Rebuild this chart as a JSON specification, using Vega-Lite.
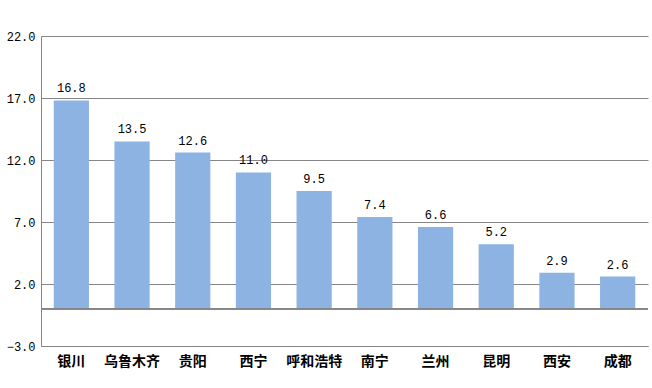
{
  "$schema": "https://vega.github.io/schema/vega-lite/v6.json",
  "width": 607,
  "height": 310,
  "autosize": {"type": "none"},
  "padding": {"left": 41, "top": 36, "right": 4, "bottom": 42},
  "background": "white",
  "config": {"view": {"stroke": null}},
  "data": {"values": [
    {"city": "银川", "value": 16.8},
    {"city": "乌鲁木齐", "value": 13.5},
    {"city": "贵阳", "value": 12.6},
    {"city": "西宁", "value": 11.0},
    {"city": "呼和浩特", "value": 9.5},
    {"city": "南宁", "value": 7.4},
    {"city": "兰州", "value": 6.6},
    {"city": "昆明", "value": 5.2},
    {"city": "西安", "value": 2.9},
    {"city": "成都", "value": 2.6}
  ]},
  "encoding": {
    "x": {
      "field": "city", "type": "nominal", "sort": null,
      "scale": {"paddingInner": 0.42},
      "axis": {"title": null, "labelAngle": 0, "ticks": false, "domain": true, "domainColor": "#868686",
               "labelFont": "Noto Sans CJK SC", "labelFontSize": 14, "labelFontWeight": "bold",
               "labelColor": "#000000", "labelPadding": 8}
    }
  },
  "layer": [
    {
      "mark": {"type": "bar", "color": "#8DB3E2"},
      "encoding": {
        "y": {
          "field": "value", "type": "quantitative",
          "scale": {"domain": [-3, 22], "nice": false, "zero": false},
          "axis": {"title": null, "values": [-3, 2, 7, 12, 17, 22], "format": ".1f",
                   "grid": true, "gridColor": "#868686", "gridOpacity": 1, "ticks": false,
                   "domainColor": "#868686", "labelFont": "Liberation Mono", "labelFontSize": 12,
                   "labelColor": "#000000", "labelPadding": 6}
        },
        "y2": {"datum": 0}
      }
    },
    {
      "mark": {"type": "text", "baseline": "bottom", "dy": -5, "font": "Liberation Mono", "fontSize": 12, "color": "#000000"},
      "encoding": {
        "y": {"field": "value", "type": "quantitative"},
        "text": {"field": "value", "type": "quantitative", "format": ".1f"}
      }
    },
    {
      "mark": {"type": "rule", "color": "#868686"},
      "encoding": {"y": {"datum": 0}, "x": {"value": 0}, "x2": {"value": 607}}
    }
  ]
}
